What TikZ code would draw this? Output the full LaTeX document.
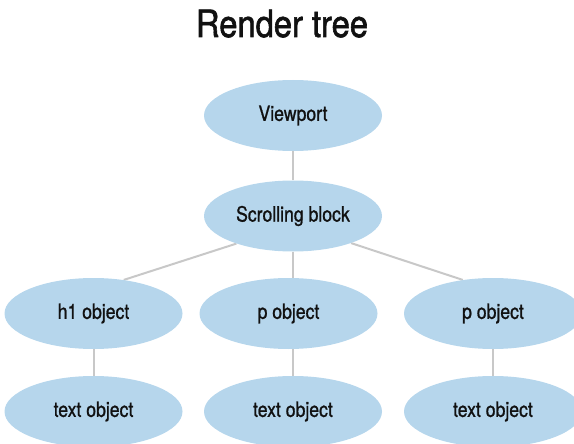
\documentclass[tikz,border=0pt]{standalone}
\usepackage{fontspec}
\usetikzlibrary{shapes.geometric,backgrounds}
\newfontfamily\titlefont[FakeStretch=0.87,FakeBold=1.6]{TeX Gyre Heros}
\newfontfamily\nodefont[FakeStretch=0.84,FakeBold=1.0]{TeX Gyre Heros}
\definecolor{bubble}{RGB}{182,214,236}
\definecolor{link}{RGB}{200,200,200}
\definecolor{ink}{RGB}{17,17,17}
\tikzset{
  bub/.style={ellipse, fill=bubble, draw=none, minimum width=178pt, minimum height=71pt, inner sep=0pt,
    font=\nodefont\fontsize{21}{24}\selectfont, text=ink},
  linkline/.style={draw=link, line width=2pt}
}
\begin{document}
\begin{tikzpicture}[x=1pt,y=-1pt]
\useasboundingbox (0,0) rectangle (574,444);
\node[font=\titlefont\fontsize{37.6}{40}\selectfont, text=ink, anchor=base] (title) at (282,37) {Render tree};
\node[bub] (vp) at (293,115.5) {Viewport};
\node[bub] (sb) at (293,216) {Scrolling block};
\node[bub] (h1) at (93.5,313.5) {h1 object};
\node[bub] (p1) at (288.5,313.5) {p object};
\node[bub] (p2) at (493,313.5) {p object};
\node[bub] (t1) at (93.5,411.5) {text object};
\node[bub] (t2) at (293,411.5) {text object};
\node[bub] (t3) at (493,411.5) {text object};
\begin{scope}[on background layer]
\draw[linkline] (vp) -- (sb);
\draw[linkline] (sb) -- (t2);
\draw[linkline] (h1) -- (t1);
\draw[linkline] (p2) -- (t3);
\draw[linkline] (sb.206) -- (h1.48);
\draw[linkline] (sb.335) -- (p2.132);
\end{scope}
\end{tikzpicture}
\end{document}
